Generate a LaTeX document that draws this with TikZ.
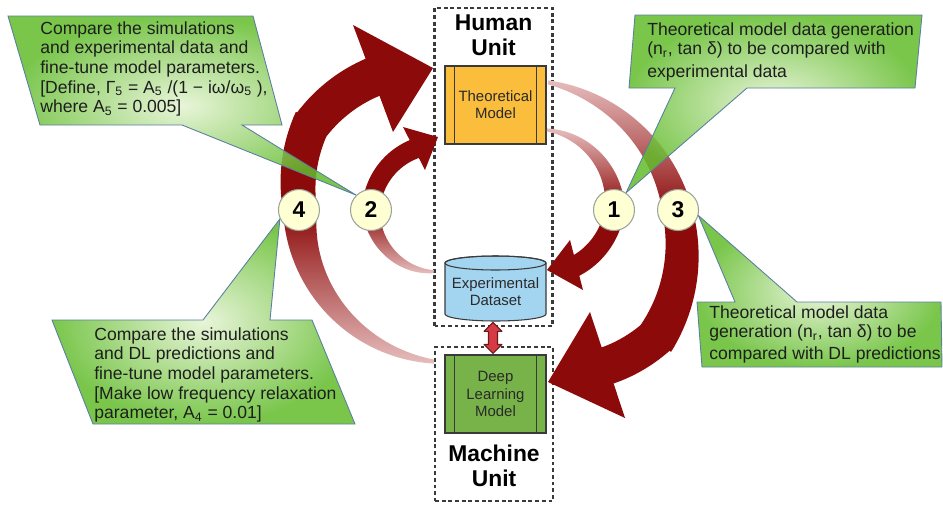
\documentclass[tikz,border=0pt]{standalone}
\usepackage{fontspec}
\setmainfont{Liberation Sans}
\usetikzlibrary{positioning,calc}

\definecolor{arrowred}{HTML}{8C0A0A}
\definecolor{tailpink}{HTML}{E6BDBD}
\definecolor{boxedge}{HTML}{3A3A3A}
\definecolor{boxtext}{HTML}{2A2A2A}
\definecolor{theoorange}{HTML}{FABD3C}
\definecolor{datablue}{HTML}{A4D5F0}
\definecolor{dlgreen}{HTML}{77B348}
\definecolor{circfill}{HTML}{FFFFD4}
\definecolor{circedge}{HTML}{9AA39A}
\definecolor{linkred}{HTML}{D83A44}
\definecolor{linkedge}{HTML}{6A1A1A}
\definecolor{calloutgreen}{HTML}{62BC2C}
\definecolor{calloutlight}{HTML}{E4F3D2}
\definecolor{calloutedge}{HTML}{5B7FA0}
\definecolor{calltext}{HTML}{1E1E1E}

\pgfdeclarelayer{front}
\pgfsetlayers{main,front}

\tikzset{
  unitbox/.style={draw=boxedge, line width=1.3pt, dash pattern=on 2.2pt off 1.6pt},
  unitlabel/.style={font=\fontsize{13}{14.5}\selectfont\bfseries, align=center, text=black},
  procbox/.style={draw=boxedge, line width=0.6pt, minimum width=2.02cm, minimum height=1.56cm,
    inner sep=0pt, align=center, font=\fontsize{8.5}{9.8}\selectfont, text=boxtext},
  numcirc/.style={circle, draw=circedge, line width=0.6pt, fill=circfill, minimum size=0.82cm,
    inner sep=0pt, font=\fontsize{13}{14}\selectfont\bfseries},
  linkarrow/.style={draw=linkedge, fill=linkred, line width=0.6pt, line join=round},
  callout/.style={draw=calloutedge, line width=0.5pt, inner color=calloutlight,
    outer color=calloutgreen, fill opacity=0.85},
  callouttext/.style={anchor=north west, inner sep=0pt, align=left,
    font=\fontsize{10}{11.2}\selectfont, text=calltext},
  taildown/.style={top color=tailpink, bottom color=arrowred},
  tailup/.style={top color=arrowred, bottom color=tailpink}
}

% band round a centre: cx, cy, angle from, angle to, radius from, radius to, width from, width to
\newcommand{\bandpath}[8]{%
  plot[domain=0:1, samples=36, variable=\t]
    ({(#1)+((#5)+((#6)-(#5))*\t+0.5*((#7)+((#8)-(#7))*\t))*cos((#3)+((#4)-(#3))*\t)},
     {(#2)+((#5)+((#6)-(#5))*\t+0.5*((#7)+((#8)-(#7))*\t))*sin((#3)+((#4)-(#3))*\t)})
  -- plot[domain=0:1, samples=36, variable=\t]
    ({(#1)+((#5)+((#6)-(#5))*(1-\t)-0.5*((#7)+((#8)-(#7))*(1-\t)))*cos((#3)+((#4)-(#3))*(1-\t))},
     {(#2)+((#5)+((#6)-(#5))*(1-\t)-0.5*((#7)+((#8)-(#7))*(1-\t)))*sin((#3)+((#4)-(#3))*(1-\t))})
  -- cycle}

\begin{document}
\begin{tikzpicture}[x=0.02cm, y=0.02cm]
\useasboundingbox (0,0) rectangle (943,-504);

% units
\node[unitbox, minimum width=2.36cm, minimum height=6.36cm] (human) at (493.5,-167) {};
\node[unitbox, minimum width=2.36cm, minimum height=3.08cm] (machine) at (494,-424) {};
\node[unitlabel] (humanlbl) at (493.5,-35) {Human\\Unit};
\node[unitlabel] (machinelbl) at (494,-466) {Machine\\Unit};

% boxes
\node[procbox, fill=theoorange] (theo) at (495.5,-105) {Theoretical\\Model};
\node[procbox, fill=dlgreen] (dl) at (495.5,-394) {Deep\\Learning\\Model};
\foreach \b in {theo,dl}{
  \draw[boxedge, line width=0.6pt] ([xshift=0.2cm]\b.north west) -- ([xshift=0.2cm]\b.south west);
  \draw[boxedge, line width=0.6pt] ([xshift=-0.2cm]\b.north east) -- ([xshift=-0.2cm]\b.south east);
}
\draw[boxedge, line width=0.6pt, fill=datablue] (445,-263) -- (445,-314)
  arc[start angle=180, end angle=360, x radius=50.5, y radius=7] -- (546,-263)
  arc[start angle=0, end angle=180, x radius=50.5, y radius=7] -- cycle;
\draw[boxedge, line width=0.6pt] (495.5,-263) ellipse[x radius=50.5, y radius=7];
\node[align=center, font=\fontsize{8.5}{9.8}\selectfont, text=boxtext, minimum width=2.02cm,
  minimum height=1.16cm, inner sep=0pt] (data) at (495.5,-292) {Experimental\\Dataset};

% link between dataset and DL model
\coordinate (linktop) at ([xshift=-0.05cm, yshift=-0.02cm]data.south);
\coordinate (linkbot) at ([xshift=-0.05cm, yshift=0.02cm]dl.north);
\draw[linkarrow] (linktop) -- ++(9,-9) -- ++(-4.5,0) |- ([xshift=0.09cm, yshift=0.18cm]linkbot)
  -- ++(4.5,0) -- (linkbot) -- ++(-9,9) -- ++(4.5,0) |- ([xshift=-0.18cm, yshift=-0.18cm]linktop)
  -- cycle;

% arrow 1
\shade[taildown] \bandpath{535}{-205}{81}{-2}{76}{80}{3}{20};
\fill[arrowred] \bandpath{535}{-205}{-2}{-58}{80}{73}{20}{21};
\fill[arrowred] (570,-240) -- (547,-270) -- (583,-290) -- cycle;
% arrow 3
\shade[taildown] \bandpath{520}{-250}{80.5}{14}{170}{162}{4}{30};
\fill[arrowred] \bandpath{520}{-250}{14}{-34}{162}{162}{30}{40.4};
\fill[arrowred] \bandpath{520}{-250}{-32}{-55}{162}{143}{40}{40};
\fill[arrowred] (590,-312) -- (548,-382) -- (625,-418) -- cycle;
% arrow 2
\shade[tailup] \bandpath{440}{-212}{264}{178}{60}{69}{3}{18};
\fill[arrowred] \bandpath{440}{-212}{178}{110}{69}{68}{18}{20};
\fill[arrowred] (403,-127) -- (438,-137) -- (425,-170) -- cycle;
% arrow 4
\shade[tailup] \bandpath{445}{-205}{266}{182}{157}{145}{4}{34};
\fill[arrowred] \bandpath{445}{-205}{182}{148}{145}{156.7}{34}{38.25};
\fill[arrowred] \bandpath{445}{-205}{150}{117}{156}{146}{38}{40};
\fill[arrowred] (353,-25) -- (433,-68) -- (393,-132) -- cycle;

% steps
\begin{pgfonlayer}{front}
\node[numcirc] (c1) at (614,-210) {1};
\node[numcirc, right=0.44cm of c1] (c3) {3};
\node[numcirc] (c2) at (371,-210) {2};
\node[numcirc, left=0.6cm of c2] (c4) {4};
\end{pgfonlayer}

% callouts
\shadedraw[callout] (8,-16) -- (253,-16) -- (282,-125) -- (242,-125) -- (c2.135)
  -- (182,-125) -- (40,-125) -- cycle;
\shadedraw[callout] (635,-15) -- (922,-15) -- (915,-88) -- (747,-88) -- (c1.55)
  -- (675,-88) -- (629,-88) -- cycle;
\shadedraw[callout] (697,-302) -- (735,-302) -- (c3.345) -- (797,-302) -- (941,-302)
  -- (942,-367) -- (702,-367) -- cycle;
\shadedraw[callout] (52,-320) -- (203,-320) -- (c4.205) -- (270,-320) -- (312,-320)
  -- (355,-424) -- (93,-424) -- cycle;

\node[callouttext] (note2) at (40,-21) {Compare the simulations\\
  and experimental data and\\
  fine-tune model parameters.\\
  {}[Define, Γ\textsubscript{5} = A\textsubscript{5} /(1 − iω/ω\textsubscript{5} ),\\
  where A\textsubscript{5} = 0.005]};
\node[callouttext] (note1) at (647,-22) {Theoretical model data generation\\
  (n\textsubscript{r}, tan δ) to be compared with\\[2pt]
  experimental data};
\node[callouttext] (note3) at (709,-305) {Theoretical model data\\
  generation (n\textsubscript{r}, tan δ) to be\\[1pt]
  compared with DL predictions};
\node[callouttext] (note4) at (94,-327) {Compare the simulations\\
  and DL predictions and\\
  fine-tune model parameters.\\
  {}[Make low frequency relaxation\\
  parameter, A\textsubscript{4} = 0.01]};
\end{tikzpicture}
\end{document}
